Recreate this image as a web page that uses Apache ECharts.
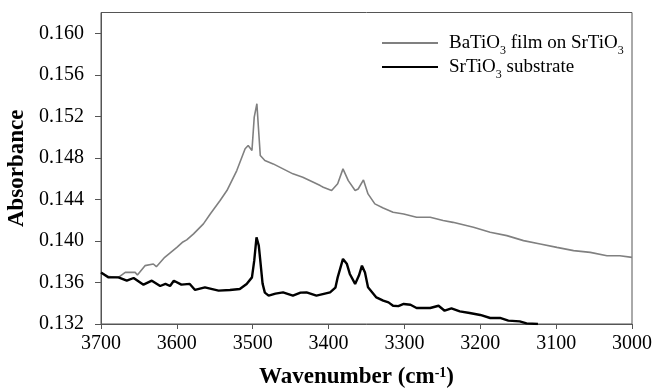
<!DOCTYPE html>
<html>
<head>
<meta charset="utf-8">
<script src="https://cdn.jsdelivr.net/npm/echarts@6/dist/echarts.min.js"></script>
<style>html,body{margin:0;padding:0;background:#fff;}#c{width:654px;height:390px;}</style>
</head>
<body>
<div id="c"></div>
<script>
const seriesNames = ['BaTiO3 film on SrTiO3', 'SrTiO3 substrate'];
const xTicks = [3700, 3600, 3500, 3400, 3300, 3200, 3100, 3000];
const yTicks = [0.132, 0.136, 0.140, 0.144, 0.148, 0.152, 0.156, 0.160];

const filmWavenumber = [3700,3690,3677,3668,3655,3652,3642,3631,3627,3616,3608,3600,3592,3587,3578,3565,3556,3543,3534,3521,3510,3506,3501,3498,3494.5,3492.5,3490,3484,3473,3460,3447,3434,3420,3411,3407,3396,3388,3381,3374,3365,3361,3354,3348,3339,3328,3315,3301,3284,3266,3249,3236,3209,3187,3165,3143,3121,3099,3077,3055,3033,3016,3000];
const filmAbsorbance = [0.13697,0.13656,0.13649,0.13697,0.13697,0.13672,0.13762,0.13778,0.13752,0.13842,0.13890,0.13938,0.13990,0.14010,0.14068,0.14164,0.14260,0.14389,0.14485,0.14678,0.14887,0.14919,0.14871,0.15192,0.15321,0.15095,0.14822,0.14774,0.14742,0.14694,0.14646,0.14613,0.14565,0.14533,0.14517,0.14485,0.14550,0.14694,0.14581,0.14485,0.14500,0.14588,0.14453,0.14357,0.14318,0.14276,0.14260,0.14228,0.14228,0.14196,0.14179,0.14131,0.14083,0.14051,0.14003,0.13971,0.13938,0.13907,0.13890,0.13858,0.13858,0.13842];

const subWavenumber = [3700,3690,3677,3666,3657,3644,3633,3622,3615,3609,3604,3594,3583,3576,3563,3545,3530,3517,3508,3501,3498,3495,3492,3490,3487,3484,3479,3470,3460,3447,3437,3429,3416,3398,3391,3388,3381,3376,3372,3365,3360,3356,3352,3348,3337,3328,3321,3315,3308,3301,3292,3284,3266,3255,3247,3238,3227,3214,3200,3187,3174,3163,3148,3139,3124];
const subAbsorbance = [0.13697,0.13649,0.13649,0.13617,0.13643,0.13579,0.13617,0.13566,0.13586,0.13566,0.13617,0.13579,0.13586,0.13528,0.13553,0.13521,0.13528,0.13537,0.13586,0.13649,0.13810,0.14035,0.13955,0.13810,0.13589,0.13502,0.13473,0.13492,0.13505,0.13473,0.13502,0.13505,0.13473,0.13505,0.13550,0.13649,0.13827,0.13781,0.13682,0.13586,0.13666,0.13762,0.13695,0.13553,0.13456,0.13425,0.13408,0.13376,0.13372,0.13393,0.13386,0.13354,0.13354,0.13376,0.13328,0.13350,0.13321,0.13306,0.13287,0.13258,0.13258,0.13232,0.13225,0.13206,0.13200];

const zip = (xs, ys) => xs.map((x, i) => [x, ys[i]]);
const serif = '"Liberation Serif", "DejaVu Serif", serif';
const axisColor = '#555';

const chart = echarts.init(document.getElementById('c'), null, {renderer: 'canvas'});
chart.setOption({
  animation: false,
  backgroundColor: '#fff',
  grid: {left: 101, right: 22, top: 12.5, bottom: 66, show: true, borderColor: axisColor, borderWidth: 1,
         containLabel: false, outerBoundsMode: 'none'},
  legend: {
    left: 376, top: 29, orient: 'vertical', itemWidth: 56, itemHeight: 14, itemGap: 1,
    data: seriesNames,
    itemStyle: {opacity: 0},
    formatter: function (name) {
      return name === seriesNames[0]
        ? '{n|BaTiO}{s|3}{n| film on SrTiO}{s|3}'
        : '{n|SrTiO}{s|3}{n| substrate}';
    },
    textStyle: {
      fontFamily: serif, fontSize: 19, color: '#000', padding: [0, 0, 0, 6],
      rich: {
        n: {fontFamily: serif, fontSize: 19, color: '#000', verticalAlign: 'bottom', lineHeight: 20},
        s: {fontFamily: serif, fontSize: 12, color: '#000', verticalAlign: 'bottom', lineHeight: 12, padding: [0, 0, -4, 0]}
      }
    }
  },
  xAxis: {
    type: 'value', inverse: true, min: xTicks[xTicks.length - 1], max: xTicks[0], interval: 100,
    splitLine: {show: false},
    axisLine: {lineStyle: {color: axisColor, width: 1}},
    axisTick: {show: true, length: 5, inside: false, lineStyle: {color: axisColor}},
    axisLabel: {fontFamily: serif, fontSize: 20, color: '#000', margin: 10, formatter: v => String(v)},
    name: '{b|Wavenumber (cm}{sup|-1}{b|)}',
    nameLocation: 'middle', nameGap: 42,
    nameTextStyle: {
      padding: [0, 20, 0, 0],
      rich: {
        b: {fontFamily: serif, fontSize: 23, fontWeight: 'bold', color: '#000', verticalAlign: 'bottom'},
        sup: {fontFamily: serif, fontSize: 14, fontWeight: 'bold', color: '#000', verticalAlign: 'top', padding: [0, 0, 9, 0]}
      }
    }
  },
  yAxis: {
    type: 'value', min: yTicks[0], max: 0.162, interval: 0.004,
    splitLine: {show: false},
    axisLine: {show: true, lineStyle: {color: axisColor, width: 1}},
    axisTick: {show: true, length: 6, inside: false, lineStyle: {color: axisColor}},
    axisLabel: {fontFamily: serif, fontSize: 20, color: '#000', margin: 17, showMaxLabel: false,
      formatter: v => v.toFixed(3)},
    name: 'Absorbance', nameLocation: 'middle', nameGap: 65, nameRotate: 90,
    nameTextStyle: {fontFamily: serif, fontSize: 23, fontWeight: 'bold', color: '#000'}
  },
  series: [
    {name: seriesNames[0], type: 'line', data: zip(filmWavenumber, filmAbsorbance), showSymbol: false, symbol: 'none',
     lineStyle: {color: '#808080', width: 1.6}, itemStyle: {color: '#808080'}, z: 2},
    {name: seriesNames[1], type: 'line', data: zip(subWavenumber, subAbsorbance), showSymbol: false, symbol: 'none',
     lineStyle: {color: '#000', width: 2.4}, itemStyle: {color: '#000'}, z: 3}
  ]
});
</script>
</body>
</html>
